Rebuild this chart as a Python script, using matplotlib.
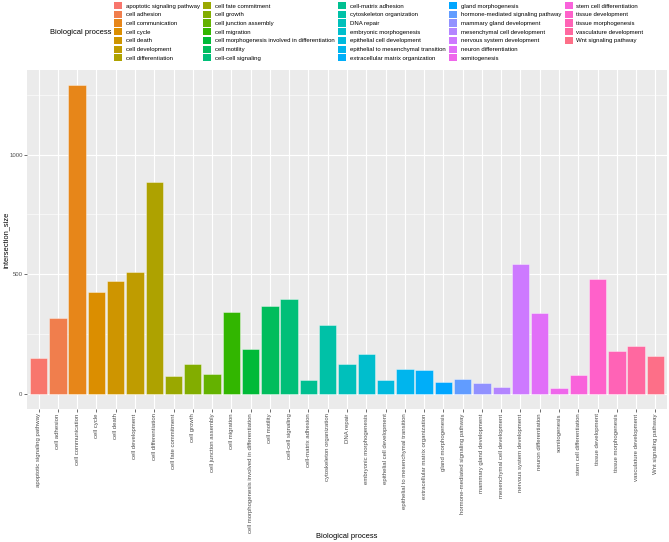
import numpy as np
import matplotlib
matplotlib.use("Agg")
import matplotlib.pyplot as plt
from matplotlib.patches import Patch

plt.rcParams["font.family"] = ["Liberation Sans", "DejaVu Sans"]

# Data
processes = [
    "apoptotic signaling pathway", "cell adhesion", "cell communication",
    "cell cycle", "cell death", "cell development", "cell differentiation",
    "cell fate commitment", "cell growth", "cell junction assembly",
    "cell migration", "cell morphogenesis involved in differentiation",
    "cell motility", "cell-cell signaling", "cell-matrix adhesion",
    "cytoskeleton organization", "DNA repair", "embryonic morphogenesis",
    "epithelial cell development", "epithelial to mesenchymal transition",
    "extracellular matrix organization", "gland morphogenesis",
    "hormone-mediated signaling pathway", "mammary gland development",
    "mesenchymal cell development", "nervous system development",
    "neuron differentiation", "somitogenesis", "stem cell differentiation",
    "tissue development", "tissue morphogenesis", "vasculature development",
    "Wnt signaling pathway",
]
intersection_size = [
    147, 316, 1290, 424, 471, 509, 887,
    72, 125, 82, 343, 186, 367, 396, 58,
    288, 125, 167, 55, 104, 97, 48,
    62, 43, 29, 544, 339, 25, 79,
    481, 177, 199, 157,
]


def hue_pal(n, c=100.0, l=65.0):
    # ggplot2 default discrete palette (polar Luv -> sRGB)
    hues = np.linspace(15, 375, n + 1)[:-1]
    xn, yn, zn = 95.047, 100.0, 108.883
    un = 4 * xn / (xn + 15 * yn + 3 * zn)
    vn = 9 * yn / (xn + 15 * yn + 3 * zn)
    y = yn * ((l + 16) / 116) ** 3
    out = []
    for h in hues:
        u = c * np.cos(np.radians(h))
        v = c * np.sin(np.radians(h))
        up = u / (13 * l) + un
        vp = v / (13 * l) + vn
        x = 9 * y * up / (4 * vp)
        z = -x / 3 - 5 * y + 3 * y / vp
        xyz = np.array([x, y, z]) / 100
        m = np.array([[3.240479, -1.537150, -0.498535],
                      [-0.969256, 1.875992, 0.041556],
                      [0.055648, -0.204043, 1.057311]])
        rgb = m @ xyz
        rgb = np.where(rgb > 0.0031308, 1.055 * np.abs(rgb) ** (1 / 2.4) - 0.055, 12.92 * rgb)
        out.append(tuple(np.clip(rgb, 0, 1)))
    return out


colors = hue_pal(len(processes))

W, H = 669, 542
fig = plt.figure(figsize=(W / 100, H / 100), dpi=100)
ax = fig.add_axes([27 / W, 1 - 409 / H, 640 / W, 339 / H])
ax.set_facecolor("#EBEBEB")

x = np.arange(len(processes))
ax.bar(x, intersection_size, width=0.9, color=colors,
       edgecolor=(1, 1, 1, 0.45), linewidth=0.6, zorder=3)

ax.set_xlim(-0.6, len(processes) - 0.4)
ymax = max(intersection_size)
ax.set_ylim(-0.05 * ymax, 1.05 * ymax)

ax.set_yticks([0, 500, 1000])
ax.set_yticks([250, 750, 1250], minor=True)
ax.set_xticks(x)
ax.set_xticklabels(processes, rotation=90, fontsize=4.3, color="#4D4D4D")
ax.tick_params(axis="y", labelsize=4.3, labelcolor="#4D4D4D")
ax.tick_params(which="major", length=2, width=0.5, color="#333333", pad=1.2)
ax.tick_params(which="minor", length=0)

ax.grid(which="major", color="white", linewidth=0.8, zorder=0)
ax.grid(which="minor", axis="y", color="white", linewidth=0.4, zorder=0)
ax.set_axisbelow(True)
for s in ax.spines.values():
    s.set_visible(False)

fig.text(6 / W, 1 - 240 / H, "intersection_size", fontsize=5.4,
         rotation=90, ha="center", va="center")
fig.text(347 / W, 1 - 536 / H, "Biological process", fontsize=5.4,
         ha="center", va="center")

# Legend: 5 columns, 7 rows, title on the left
handles = [Patch(facecolor=c, edgecolor="none") for c in colors]
labels = list(processes)
handles.append(Patch(facecolor="none", edgecolor="none"))
labels.append("")
fig.legend(handles, labels, ncol=5, loc="upper left",
           bbox_to_anchor=(114 / W, 1 - 2 / H), frameon=False,
           fontsize=4.3, handlelength=1.35, handleheight=1.45,
           handletextpad=0.6, labelspacing=0.27, columnspacing=0.6,
           borderpad=0, borderaxespad=0)
fig.text(50 / W, 1 - 33 / H, "Biological process", fontsize=5.4,
         ha="left", va="center")

fig.savefig("out.png", dpi=100)
